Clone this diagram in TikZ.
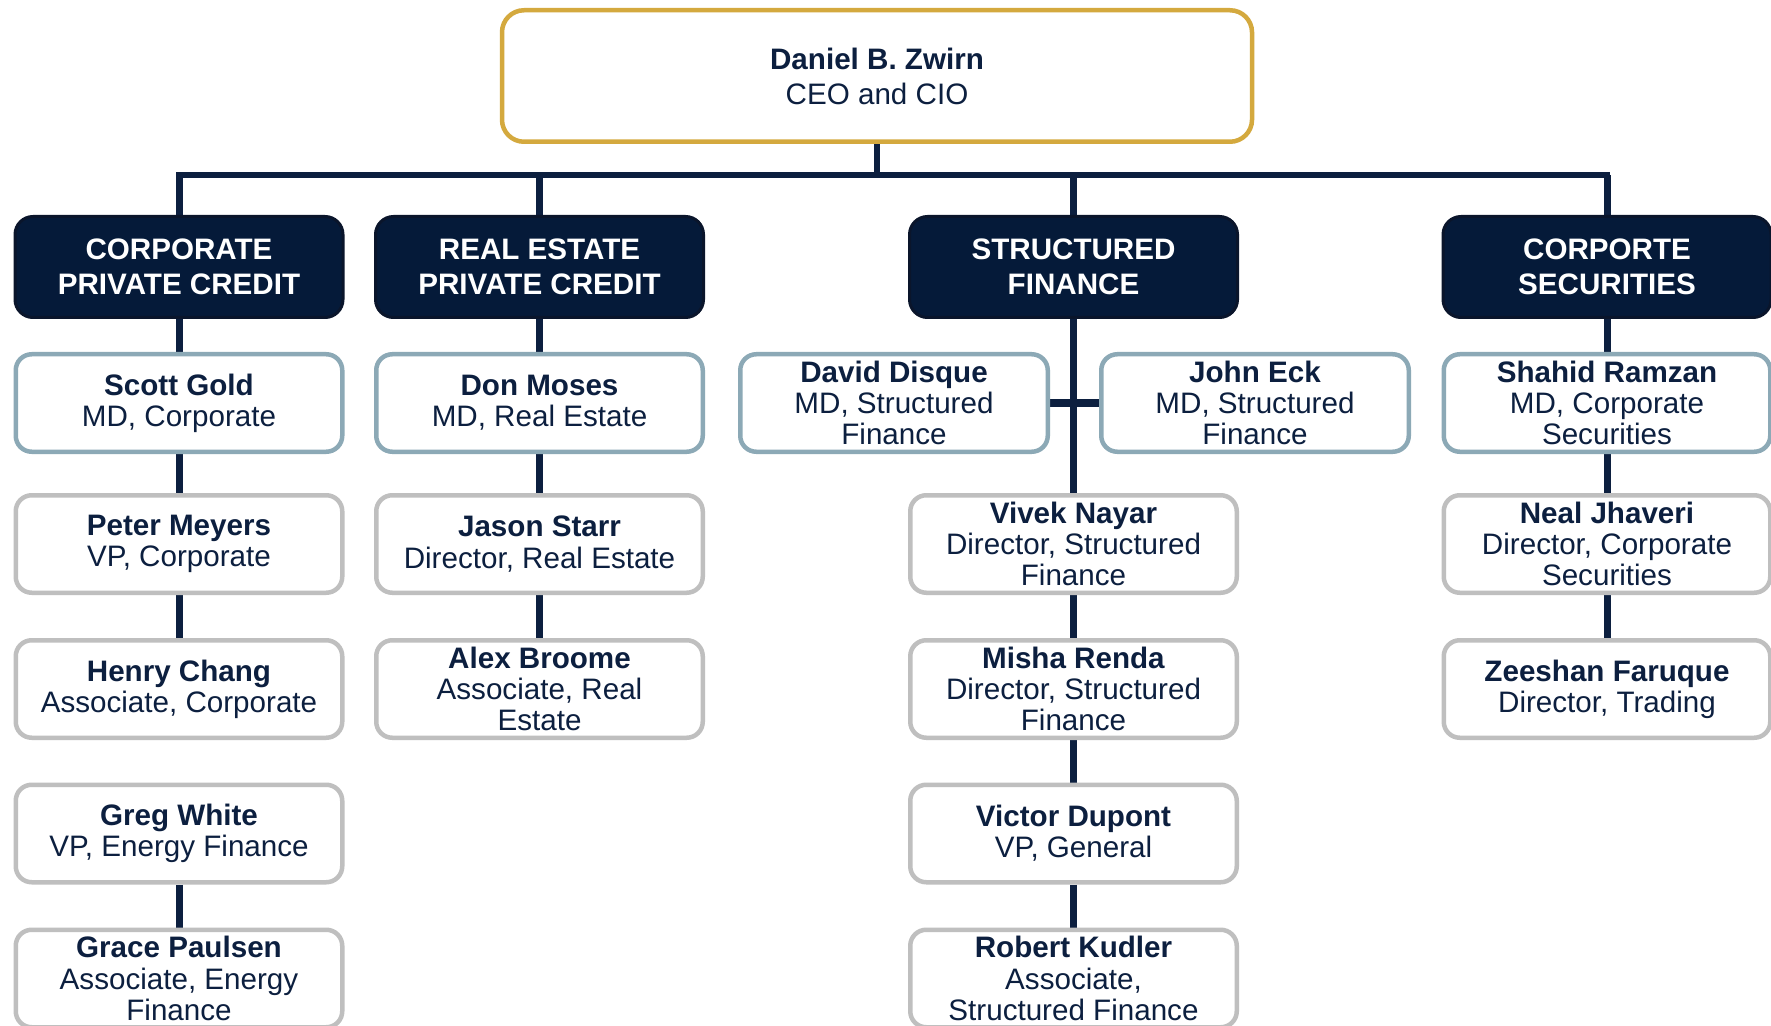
\documentclass[tikz,border=0pt]{standalone}
\usepackage{fontspec}
\setmainfont{Liberation Sans}
\usetikzlibrary{backgrounds}
\definecolor{gold}{HTML}{D4A93E}
\definecolor{bluegrey}{HTML}{8CA9B6}
\definecolor{greyb}{HTML}{BFBFBF}
\definecolor{navy}{HTML}{0C1F3F}
\definecolor{deptfill}{HTML}{051A39}
\definecolor{deptborder}{HTML}{0A152B}
\newcommand\psn[2]{\textbf{#1}\\#2}
\begin{document}
\begin{tikzpicture}[x=0.5pt,y=-0.5pt,
  ceobox/.style={draw=gold, line width=2.25pt, rounded corners=11pt, fill=white,
    minimum width=375pt, minimum height=65.75pt, align=center, text=navy, inner sep=1pt,
    font=\fontsize{14.8}{17.5}\selectfont},
  deptbox/.style={draw=deptborder, fill=deptfill, line width=1.5pt, rounded corners=9pt,
    minimum width=164pt, minimum height=50.5pt, align=center, text=white, inner sep=1pt,
    font=\fontsize{14.8}{17.5}\selectfont\bfseries},
  mdbox/.style={draw=bluegrey, line width=2.25pt, rounded corners=8pt, fill=white,
    minimum width=163.25pt, minimum height=48.75pt, align=center, text=navy, inner sep=1pt,
    font=\fontsize{14.8}{15.6}\selectfont},
  sfmd/.style={mdbox, minimum width=153.75pt},
  staffbox/.style={mdbox, draw=greyb},
  conn/.style={draw=navy, line width=3.5pt},
  stem/.style={draw=navy, line width=3pt}
]
\useasboundingbox (0,0) rectangle (1771,1026);

% top
\node[ceobox] (ceo) at (877,76) {\textbf{Daniel B. Zwirn}\\CEO and CIO};

% departments
\node[deptbox] (cpc) at (179,267) {CORPORATE\\PRIVATE CREDIT};
\node[deptbox] (repc) at (539.5,267) {REAL ESTATE\\PRIVATE CREDIT};
\node[deptbox] (sf) at (1073.5,267) {STRUCTURED\\FINANCE};
\node[deptbox] (cs) at (1607,267) {CORPORTE\\SECURITIES};

% column 1
\node[mdbox] (gold1) at (179,403) {\psn{Scott Gold}{MD, Corporate}};
\node[staffbox] (meyers) at (179,544) {\psn{Peter Meyers}{VP, Corporate}};
\node[staffbox] (chang) at (179,689) {\psn{Henry Chang}{Associate, Corporate}};
\node[staffbox] (white1) at (179,833.5) {\psn{Greg White}{VP, Energy Finance}};
\node[staffbox] (paulsen) at (179,978.5) {\psn{Grace Paulsen}{Associate, Energy\\Finance}};

% column 2
\node[mdbox] (moses) at (539.5,403) {\psn{Don Moses}{MD, Real Estate}};
\node[staffbox] (starr) at (539.5,544) {\psn{Jason Starr}{Director, Real Estate}};
\node[staffbox] (broome) at (539.5,689) {\psn{Alex Broome}{Associate, Real\\Estate}};

% column 3
\node[sfmd] (disque) at (894,403) {\psn{David Disque}{MD, Structured\\Finance}};
\node[sfmd] (eck) at (1255,403) {\psn{John Eck}{MD, Structured\\Finance}};
\node[staffbox] (nayar) at (1073.5,544) {\psn{Vivek Nayar}{Director, Structured\\Finance}};
\node[staffbox] (renda) at (1073.5,689) {\psn{Misha Renda}{Director, Structured\\Finance}};
\node[staffbox] (dupont) at (1073.5,833.5) {\psn{Victor Dupont}{VP, General}};
\node[staffbox] (kudler) at (1073.5,978.5) {\psn{Robert Kudler}{Associate,\\Structured Finance}};

% column 4
\node[mdbox] (ramzan) at (1607,403) {\psn{Shahid Ramzan}{MD, Corporate\\Securities}};
\node[staffbox] (jhaveri) at (1607,544) {\psn{Neal Jhaveri}{Director, Corporate\\Securities}};
\node[staffbox] (faruque) at (1607,689) {\psn{Zeeshan Faruque}{Director, Trading}};

\coordinate (barL) at (179,175);
\coordinate (barR) at (1607,175);

\begin{scope}[on background layer]
  \fill[white] (0,0) rectangle (1771,1026);
  \draw[stem] (ceo.south) -- (ceo.south |- barL);
  \draw[stem] ([xshift=-1.5pt]barL) -- ([xshift=1.5pt]barR);
  \draw[conn] (barL) -- (cpc.north);
  \draw[conn] (repc.north |- barL) -- (repc.north);
  \draw[conn] (sf.north |- barL) -- (sf.north);
  \draw[conn] (barR) -- (cs.north);
  % column 1
  \draw[conn] (cpc.south) -- (gold1.north);
  \draw[conn] (gold1.south) -- (meyers.north);
  \draw[conn] (meyers.south) -- (chang.north);
  \draw[conn] (white1.south) -- (paulsen.north);
  % column 2
  \draw[conn] (repc.south) -- (moses.north);
  \draw[conn] (moses.south) -- (starr.north);
  \draw[conn] (starr.south) -- (broome.north);
  % column 3
  \draw[conn] (sf.south) -- (nayar.north);
  \draw[conn] (disque.east) -- (eck.west);
  \draw[conn] (nayar.south) -- (renda.north);
  \draw[conn] (renda.south) -- (dupont.north);
  \draw[conn] (dupont.south) -- (kudler.north);
  % column 4
  \draw[conn] (cs.south) -- (ramzan.north);
  \draw[conn] (ramzan.south) -- (jhaveri.north);
  \draw[conn] (jhaveri.south) -- (faruque.north);
\end{scope}
\end{tikzpicture}
\end{document}
